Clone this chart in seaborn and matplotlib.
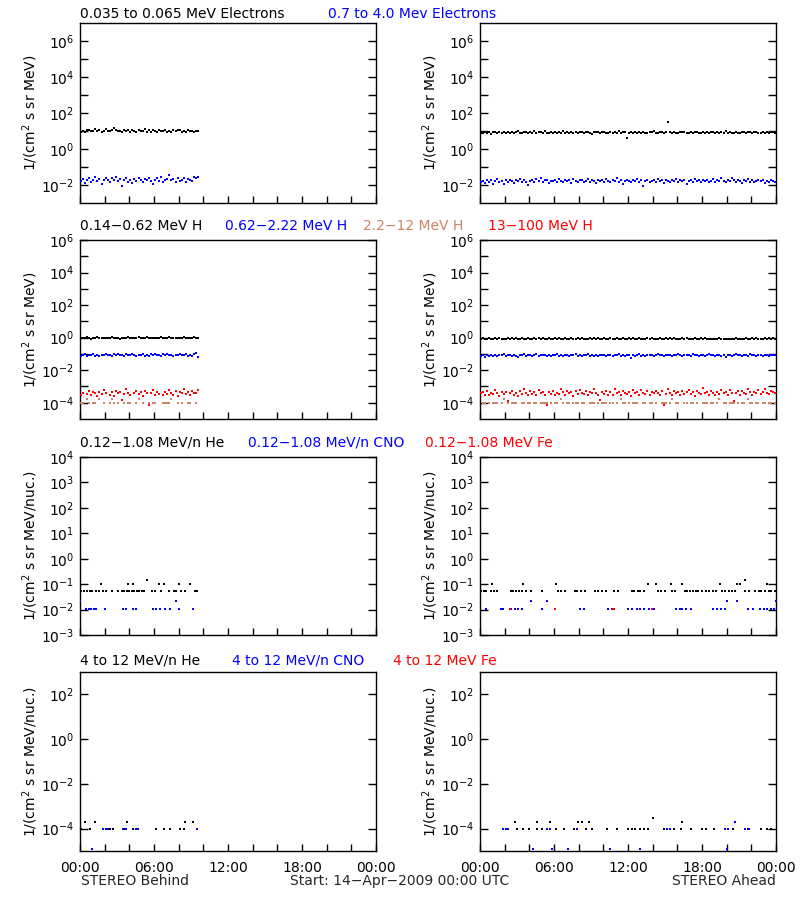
import numpy as np
import pandas as pd
import matplotlib
matplotlib.use("Agg")
import matplotlib.pyplot as plt
import seaborn as sns
from matplotlib.ticker import FixedLocator, MultipleLocator, NullLocator, FuncFormatter

N = np.nan

# ---------------- data (fluxes) ----------------
# 10-minute samples; STEREO Behind stops ~09:40, Ahead covers the full day
beh_e_low = [9.1, 10.2, 8.9, 10.8, 11.5, 9.6, 10.4, 12.3, 9.8, 11.0, 8.7, 10.6, 13.2, 10.1, 9.4, 11.7,
             14.1, 10.9, 9.9, 10.3, 8.8, 11.2, 9.5, 10.7, 9.0, 12.0, 10.5, 9.3, 11.4, 10.0, 9.7, 12.6,
             8.6, 10.8, 9.2, 11.3, 10.1, 8.9, 11.8, 9.6, 10.4, 12.1, 9.1, 10.6, 8.5, 11.0, 9.8, 10.9,
             11.9, 9.3, 10.2, 8.8, 11.1, 9.7, 10.0, 8.9, 10.5, 9.6]
beh_e_high = [0.016, 0.021, 0.013, 0.018, 0.024, 0.015, 0.019, 0.027, 0.017, 0.022, 0.012, 0.020,
              0.025, 0.018, 0.014, 0.023, 0.019, 0.028, 0.016, 0.021, 0.009, 0.018, 0.024, 0.015,
              0.020, 0.013, 0.022, 0.017, 0.026, 0.019, 0.014, 0.021, 0.018, 0.025, 0.016, 0.012,
              0.020, 0.023, 0.017, 0.028, 0.015, 0.019, 0.022, 0.034, 0.018, 0.021, 0.014, 0.024,
              0.017, 0.020, 0.026, 0.015, 0.022, 0.019, 0.016, 0.029, 0.024, 0.027]
ahd_e_low = [8.1, 7.6, 8.8, 7.9, 8.4, 7.2, 9.0, 8.3, 7.7, 8.6, 7.4, 8.9,
             8.2, 9.3, 7.8, 8.5, 7.5, 8.7, 9.6, 8.0, 7.3, 8.4, 9.1, 7.9,
             8.6, 8.1, 9.4, 7.6, 8.3, 8.9, 7.8, 9.7, 8.2, 7.4, 8.8, 8.0,
             9.2, 7.7, 8.5, 8.1, 9.8, 7.9, 8.4, 7.5, 8.7, 8.2, 9.0, 7.6,
             8.3, 8.9, 7.8, 8.6, 9.3, 8.0, 7.2, 8.5, 9.1, 8.8, 7.9, 8.4,
             8.7, 7.6, 8.2, 9.0, 7.8, 8.5, 8.1, 9.4, 7.7, 8.3, 8.6, 4.2,
             8.0, 8.9, 7.5, 8.4, 8.1, 9.2, 7.9, 8.6, 8.2, 7.6, 8.8, 8.3,
             9.5, 8.0, 7.7, 8.5, 8.9, 7.8, 8.3, 31.0, 9.1, 7.4, 8.6, 8.2,
             7.9, 8.7, 8.4, 9.0, 7.6, 8.2, 8.8, 7.5, 8.5, 9.3, 8.1, 7.8,
             8.6, 8.0, 9.2, 7.7, 8.4, 8.9, 7.9, 8.3, 7.3, 8.7, 8.1, 9.6,
             7.8, 8.5, 8.2, 7.4, 8.8, 8.0, 7.6, 8.4, 9.0, 7.7, 8.3, 8.6,
             7.9, 8.5, 9.1, 8.1, 7.6, 8.7, 8.2, 8.9, 7.8, 8.4, 8.8, 8.0]
ahd_e_high = [0.014, 0.017, 0.013, 0.019, 0.015, 0.018, 0.011, 0.016, 0.021, 0.014, 0.017, 0.012,
              0.018, 0.015, 0.020, 0.016, 0.013, 0.019, 0.017, 0.022, 0.014, 0.018, 0.015, 0.010,
              0.016, 0.019, 0.014, 0.021, 0.017, 0.023, 0.015, 0.018, 0.020, 0.013, 0.017, 0.016,
              0.019, 0.015, 0.022, 0.017, 0.014, 0.020, 0.016, 0.018, 0.013, 0.021, 0.017, 0.015,
              0.018, 0.020, 0.014, 0.016, 0.022, 0.015, 0.019, 0.017, 0.013, 0.020, 0.016, 0.018,
              0.015, 0.021, 0.017, 0.014, 0.019, 0.016, 0.023, 0.015, 0.018, 0.012, 0.017, 0.020,
              0.016, 0.014, 0.019, 0.017, 0.021, 0.015, 0.018, 0.009, 0.016, 0.020, 0.014, 0.017,
              0.019, 0.015, 0.022, 0.016, 0.018, 0.013, 0.020, 0.017, 0.015, 0.019, 0.016, 0.021,
              0.014, 0.018, 0.016, 0.020, 0.011, 0.017, 0.019, 0.015, 0.022, 0.016, 0.018, 0.014,
              0.020, 0.016, 0.019, 0.015, 0.017, 0.021, 0.014, 0.018, 0.016, 0.023, 0.017, 0.015,
              0.019, 0.016, 0.024, 0.018, 0.015, 0.020, 0.017, 0.013, 0.019, 0.016, 0.021, 0.015,
              0.018, 0.014, 0.017, 0.020, 0.016, 0.019, 0.013, 0.017, 0.015, 0.018, 0.016, 0.014]

beh_h1 = [0.92, 0.98, 0.90, 1.02, 0.95, 0.88, 1.00, 0.94, 1.05, 0.91, 0.97, 0.93, 1.01, 0.89, 0.96,
          1.03, 0.92, 0.99, 0.94, 0.87, 1.00, 0.95, 0.91, 1.04, 0.96, 0.90, 0.98, 0.93, 1.02, 0.97,
          0.89, 0.95, 1.06, 0.92, 0.99, 0.94, 1.01, 0.91, 0.96, 1.08, 0.93, 0.98, 0.90, 1.03, 0.95,
          0.92, 1.00, 0.94, 0.97, 0.89, 1.05, 0.96, 0.91, 0.99, 0.93, 1.02, 0.95, 0.94]
beh_h2 = [0.078, 0.085, 0.092, 0.074, 0.088, 0.081, 0.095, 0.079, 0.086, 0.070, 0.091, 0.083,
          0.099, 0.080, 0.087, 0.076, 0.093, 0.084, 0.105, 0.082, 0.089, 0.073, 0.094, 0.086,
          0.080, 0.097, 0.085, 0.077, 0.090, 0.083, 0.101, 0.079, 0.088, 0.075, 0.092, 0.084,
          0.096, 0.081, 0.087, 0.078, 0.094, 0.085, 0.100, 0.082, 0.089, 0.076, 0.091, 0.083,
          0.098, 0.080, 0.086, 0.093, 0.079, 0.088, 0.074, 0.097, 0.110, 0.068]
beh_h4 = [3.2e-4, 4.1e-4, N, 3.6e-4, 5.0e-4, 2.8e-4, 4.4e-4, 3.9e-4, 2.5e-4, 4.8e-4, 3.4e-4, 6.1e-4,
          4.0e-4, N, 3.1e-4, 4.6e-4, 2.7e-4, 5.4e-4, 3.8e-4, 4.3e-4, 1.4e-4, 3.5e-4, 6.6e-4, 4.2e-4,
          2.9e-4, N, 3.7e-4, 5.2e-4, 3.3e-4, 4.5e-4, 2.6e-4, 4.9e-4, 3.9e-4, 7.0e-5, 4.1e-4, 5.7e-4,
          3.0e-4, 4.4e-4, 3.6e-4, N, 2.8e-4, 4.7e-4, 3.4e-4, 6.3e-4, 4.0e-4, 3.2e-4, 5.1e-4, 2.7e-4,
          4.3e-4, 3.8e-4, 7.2e-4, 3.5e-4, 4.6e-4, 2.9e-4, 5.5e-4, 3.7e-4, 4.2e-4, 6.4e-4]
beh_h3 = [9e-5, 9e-5, N, 1.8e-4, 9e-5, N, 9e-5, 9e-5, N, 1.8e-4, N, 9e-5, N, N, 9e-5, 1.8e-4,
          9e-5, N, 9e-5, N, N, 9e-5, N, 9e-5, 9e-5, N, N, 9e-5, 1.8e-4, N, 9e-5, N, N, 9e-5, N,
          9e-5, 9e-5, N, N, N, 9e-5, 9e-5, 9e-5, 9e-5, 1.8e-4, N, N, 9e-5, N, 9e-5, N, N, 9e-5,
          9e-5, N, N, 9e-5, N]

ahd_h1 = [0.86, 0.90, 0.83, 0.88, 0.92, 0.85, 0.80, 0.89, 0.87, 0.93, 0.84, 0.88,
          0.82, 0.91, 0.86, 0.89, 0.84, 0.95, 0.87, 0.81, 0.90, 0.85, 0.88, 0.92,
          0.84, 0.87, 0.91, 0.83, 0.89, 0.86, 0.94, 0.82, 0.88, 0.90, 0.85, 0.87,
          0.93, 0.84, 0.89, 0.86, 0.81, 0.91, 0.87, 0.85, 0.96, 0.88, 0.83, 0.90,
          0.86, 0.92, 0.84, 0.88, 0.85, 0.90, 0.82, 0.89, 0.87, 0.94, 0.85, 0.88,
          0.91, 0.83, 0.87, 0.90, 0.86, 0.84, 0.92, 0.88, 0.85, 0.89, 0.80, 0.87,
          0.90, 0.86, 0.93, 0.84, 0.88, 0.91, 0.85, 0.87, 0.82, 0.89, 0.86, 0.92,
          0.84, 0.88, 0.86, 0.90, 0.83, 0.87, 0.95, 0.85, 0.89, 0.86, 0.91, 0.84,
          0.87, 0.82, 0.89, 0.85, 0.92, 0.86, 0.88, 0.84, 0.90, 0.83, 0.87, 0.91,
          0.85, 0.89, 0.86, 0.83, 0.88, 0.81, 0.87, 0.84, 0.90, 0.86, 0.82, 0.88,
          0.85, 0.80, 0.87, 0.84, 0.89, 0.86, 0.83, 0.88, 0.85, 0.91, 0.84, 0.87,
          0.89, 0.85, 0.92, 0.86, 0.88, 0.84, 0.90, 0.87, 0.93, 0.86, 0.91, 0.88]
ahd_h2 = [0.074, 0.082, 0.069, 0.086, 0.079, 0.091, 0.077, 0.084, 0.072, 0.088, 0.081, 0.095,
          0.076, 0.083, 0.090, 0.071, 0.085, 0.079, 0.062, 0.087, 0.080, 0.093, 0.075, 0.084,
          0.089, 0.078, 0.082, 0.096, 0.073, 0.086, 0.080, 0.091, 0.077, 0.084, 0.070, 0.088,
          0.081, 0.094, 0.076, 0.085, 0.079, 0.090, 0.083, 0.074, 0.087, 0.080, 0.092, 0.078,
          0.085, 0.072, 0.089, 0.081, 0.097, 0.076, 0.084, 0.079, 0.091, 0.073, 0.086, 0.082,
          0.088, 0.075, 0.083, 0.090, 0.078, 0.085, 0.080, 0.093, 0.077, 0.086, 0.071, 0.084,
          0.081, 0.058, 0.088, 0.076, 0.083, 0.092, 0.079, 0.085, 0.074, 0.087, 0.080, 0.090,
          0.077, 0.084, 0.095, 0.082, 0.088, 0.079, 0.091, 0.083, 0.086, 0.075, 0.089, 0.081,
          0.093, 0.085, 0.078, 0.090, 0.083, 0.087, 0.076, 0.092, 0.080, 0.086, 0.073, 0.084,
          0.089, 0.077, 0.085, 0.094, 0.081, 0.088, 0.075, 0.083, 0.091, 0.079, 0.086, 0.066,
          0.082, 0.090, 0.077, 0.085, 0.096, 0.080, 0.087, 0.074, 0.089, 0.083, 0.078, 0.092,
          0.081, 0.086, 0.075, 0.088, 0.083, 0.079, 0.090, 0.084, 0.072, 0.087, 0.082, 0.085]
ahd_h4 = [3.8e-4, 4.6e-4, 3.2e-4, 5.3e-4, 2.9e-4, 4.1e-4, 3.5e-4, 6.0e-4, 3.9e-4, 2.7e-4, 4.8e-4, 3.3e-4,
          4.4e-4, 1.2e-4, 3.7e-4, 5.6e-4, 3.0e-4, 4.2e-4, 2.6e-4, 4.9e-4, 3.6e-4, 7.4e-4, 4.0e-4, 3.1e-4,
          5.1e-4, 3.4e-4, 4.5e-4, 2.8e-4, 6.4e-4, 3.9e-4, 4.7e-4, 3.2e-4, 7.0e-5, 4.3e-4, 3.6e-4, 5.5e-4,
          2.9e-4, 4.1e-4, 3.5e-4, 6.8e-4, 4.6e-4, 3.0e-4, 5.2e-4, 3.8e-4, 4.4e-4, 2.7e-4, 4.9e-4, 3.3e-4,
          6.1e-4, 4.0e-4, 3.4e-4, 5.0e-4, 2.8e-4, 4.5e-4, 3.7e-4, 7.0e-4, 4.2e-4, 3.1e-4, 1.5e-4, 4.8e-4,
          3.6e-4, 5.4e-4, 3.2e-4, 4.3e-4, 2.9e-4, 6.5e-4, 3.9e-4, 4.6e-4, 3.0e-4, 5.2e-4, 4.1e-4, 3.5e-4,
          4.7e-4, 2.6e-4, 5.8e-4, 3.8e-4, 4.4e-4, 3.1e-4, 6.2e-4, 4.0e-4, 3.3e-4, 5.0e-4, 2.8e-4, 4.5e-4,
          3.7e-4, 5.6e-4, 4.2e-4, 3.0e-4, 4.9e-4, 7.5e-5, 3.6e-4, 6.7e-4, 4.1e-4, 3.2e-4, 5.3e-4, 3.9e-4,
          4.6e-4, 2.9e-4, 5.1e-4, 3.5e-4, 4.3e-4, 6.0e-4, 3.3e-4, 4.7e-4, 2.7e-4, 5.5e-4, 4.0e-4, 3.4e-4,
          7.5e-4, 3.8e-4, 4.5e-4, 3.1e-4, 5.2e-4, 4.1e-4, 2.8e-4, 4.8e-4, 3.6e-4, 6.3e-4, 3.9e-4, 4.4e-4,
          3.2e-4, 5.7e-4, 4.2e-4, 1.3e-4, 3.7e-4, 4.9e-4, 3.0e-4, 5.4e-4, 4.0e-4, 3.5e-4, 6.6e-4, 4.3e-4,
          2.9e-4, 4.6e-4, 3.8e-4, 5.9e-4, 3.3e-4, 4.4e-4, 6.9e-4, 4.1e-4, 3.6e-4, 5.0e-4, 4.7e-4, 3.9e-4]
ahd_h3 = [N, 9e-5, 9e-5, N, 9e-5, N, 9e-5, 9e-5, 9e-5, N, 9e-5, 1.8e-4,
          N, 9e-5, N, 9e-5, 9e-5, 9e-5, N, N, 9e-5, 9e-5, N, 9e-5,
          9e-5, N, 9e-5, 9e-5, N, 9e-5, 9e-5, 9e-5, 9e-5, N, 9e-5, N,
          9e-5, 9e-5, N, 1.8e-4, 9e-5, N, 9e-5, 9e-5, N, 9e-5, 9e-5, 9e-5,
          N, 9e-5, 9e-5, N, N, 9e-5, 9e-5, 9e-5, N, 9e-5, N, 9e-5,
          9e-5, 9e-5, N, 9e-5, 9e-5, N, 9e-5, N, 1.8e-4, 9e-5, 9e-5, N,
          9e-5, N, 9e-5, 9e-5, 9e-5, N, N, 9e-5, 9e-5, N, 9e-5, 9e-5,
          N, 9e-5, N, N, 9e-5, 9e-5, 9e-5, N, 9e-5, 1.8e-4, N, 9e-5,
          9e-5, N, N, 9e-5, 9e-5, N, 9e-5, 9e-5, N, 9e-5, N, N,
          9e-5, 9e-5, 9e-5, N, 9e-5, 9e-5, N, 9e-5, 1.8e-4, N, 9e-5, 9e-5,
          N, 9e-5, 9e-5, 9e-5, N, 9e-5, N, 9e-5, 9e-5, N, 1.8e-4, 9e-5,
          9e-5, N, 9e-5, 9e-5, N, 9e-5, 9e-5, N, 9e-5, 9e-5, N, 9e-5]

# sparse (count-limited) channels: hours of non-zero samples, and their flux levels
he_base, he_one, he_two = 0.055, 0.10, 0.15
cno_base, cno_one = 0.011, 0.022
beh_he_base_t = [0.1, 0.3, 0.6, 0.8, 1.0, 1.3, 1.5, 1.9, 2.1, 2.6, 3.1, 3.4, 3.6, 3.8, 4.0, 4.2,
                 4.4, 4.6, 4.8, 5.0, 5.2, 5.8, 6.1, 6.6, 7.2, 7.6, 7.8, 8.2, 8.5, 9.3, 9.5]
beh_he_one_t = [1.7, 3.9, 4.3, 6.4, 6.8, 8.0, 8.9]
beh_he_two_t = [5.4]
beh_cno_base_t = [0.5, 0.7, 0.9, 1.1, 1.3, 2.0, 3.5, 3.7, 4.3, 4.5, 5.9, 6.2, 6.5, 6.9, 7.3, 8.0, 9.2]
beh_cno_one_t = [0.0, 7.8]
ahd_he_base_t = [0.1, 0.3, 0.5, 0.9, 1.1, 1.4, 2.5, 2.7, 2.9, 3.2, 3.4, 3.7, 4.1, 5.0, 6.3, 6.6, 6.9,
                 7.7, 7.9, 8.2, 8.5, 9.3, 9.6, 9.9, 10.2, 10.9, 11.2, 12.3, 12.5, 12.8, 13.0, 13.3,
                 14.4, 14.7, 15.0, 15.6, 15.8, 16.6, 16.8, 17.0, 17.3, 17.5, 17.7, 18.0, 18.3, 18.6,
                 18.9, 19.1, 19.6, 19.9, 20.2, 20.4, 20.7, 21.5, 21.8, 22.3, 22.6, 22.8, 23.1, 23.4,
                 23.6, 23.9]
ahd_he_one_t = [0.95, 3.5, 6.2, 13.65, 14.3, 15.5, 16.35, 19.46, 20.8, 21.1, 23.25]
ahd_he_two_t = [21.5]
ahd_cno_base_t = [0.5, 1.7, 1.9, 2.5, 2.8, 3.1, 3.4, 5.0, 8.1, 8.4, 10.4, 10.7, 12.0, 12.3, 12.7,
                  13.0, 13.3, 13.7, 14.1, 15.9, 16.2, 16.4, 16.7, 17.1, 18.9, 19.2, 19.5, 19.9,
                  21.7, 22.1, 22.7, 23.0, 23.3, 23.6, 23.8]
ahd_cno_one_t = [4.1, 5.4, 20.0, 20.8, 24.0]
ahd_fe_base_t = [2.45, 6.1, 10.8, 10.9, 13.95]

hi_one, hi_two, hi_three, hi_low = 1.0e-4, 2.0e-4, 3.0e-4, 1.2e-5
beh_hhe_one_t = [0.1, 0.8, 2.4, 2.7, 3.6, 4.3, 4.6, 6.2, 6.8, 7.3, 8.1, 8.4, 9.5]
beh_hhe_two_t = [0.4, 1.2, 3.8, 8.5, 9.2]
beh_hcno_one_t = [1.9, 2.1, 2.3, 3.5, 3.7, 4.5, 4.7, 9.5]
beh_hcno_low_t = [1.0]
ahd_hhe_one_t = [3.0, 3.5, 4.0, 4.6, 5.0, 6.2, 6.8, 7.6, 8.6, 9.1, 10.3, 11.1, 12.0, 12.3, 12.6, 13.0,
                 13.3, 13.6, 14.9, 15.7, 16.3, 17.1, 18.0, 18.3, 19.0, 20.5, 21.7, 22.8, 23.3, 23.6]
ahd_hhe_two_t = [2.84, 4.6, 5.68, 7.97, 8.24, 8.8, 16.35]
ahd_hhe_three_t = [14.05]
ahd_hcno_one_t = [1.9, 2.1, 2.3, 5.4, 5.7, 7.9, 15.2, 15.4, 19.9, 20.1, 21.5, 21.8]
ahd_hcno_two_t = [20.7]
ahd_hcno_low_t = [4.3, 5.8, 7.1, 10.5, 13.0, 20.0]

hour_ticks = [0, 6, 12, 18, 24]
hour_labels = ["00:00", "06:00", "12:00", "18:00", "00:00"]

BLUE, RED, TAN, BLACK = "#0000ff", "#ff0000", "#cc8466", "#000000"

# ---------------- figure ----------------
sns.set_theme(style="white")
plt.rcParams["font.family"] = ["DejaVu Sans"]
plt.rcParams["mathtext.default"] = "regular"
FS = 10

fig = plt.figure(figsize=(8, 9), dpi=100)
W, H = 800.0, 900.0
row_px = [(23, 203), (240, 419), (457, 635), (672, 851)]
col_px = [(80, 376), (480, 776)]
row_ylim = [(1e-3, 1e7), (1e-5, 1e6), (10 ** -3.0, 1e4), (1e-5, 1e3)]
row_ticks = [range(-2, 7), range(-4, 7), range(-3, 5), range(-4, 3, 2)]
row_lab_even = [True, True, False, True]
ylabels = ["1/(cm$^2$ s sr MeV)", "1/(cm$^2$ s sr MeV)",
           "1/(cm$^2$ s sr MeV/nuc.)", "1/(cm$^2$ s sr MeV/nuc.)"]


def pts(ax, x, y, color, s=3.4):
    df = pd.DataFrame({"t": np.asarray(x, float), "v": np.asarray(y, float)}).dropna()
    sns.scatterplot(data=df, x="t", y="v", ax=ax, color=color, marker="s", s=s,
                    linewidth=0, legend=False, zorder=3)


def grid10(vals):
    return np.arange(len(vals)) / 6.0 + 0.08


axes = {}
for r, (top, bot) in enumerate(row_px):
    for c, (l, rr) in enumerate(col_px):
        ax = fig.add_axes([l / W, 1 - bot / H, (rr - l) / W, (bot - top) / H])
        ax.set_facecolor("white")
        axes[(r, c)] = ax

# row 1: electrons
for c, (lo, hi) in enumerate([(beh_e_low, beh_e_high), (ahd_e_low, ahd_e_high)]):
    ax = axes[(0, c)]
    pts(ax, grid10(lo), lo, BLACK)
    pts(ax, grid10(hi), hi, BLUE)

# row 2: protons
for c, (a, b, d, e) in enumerate([(beh_h1, beh_h2, beh_h3, beh_h4), (ahd_h1, ahd_h2, ahd_h3, ahd_h4)]):
    ax = axes[(1, c)]
    pts(ax, grid10(a), a, BLACK)
    pts(ax, grid10(b), b, BLUE)
    pts(ax, grid10(d), d, TAN)
    pts(ax, grid10(e), e, RED)

# row 3: low-energy heavy ions
ax = axes[(2, 0)]
pts(ax, beh_he_base_t, [he_base] * len(beh_he_base_t), BLACK)
pts(ax, beh_he_one_t, [he_one] * len(beh_he_one_t), BLACK)
pts(ax, beh_he_two_t, [he_two] * len(beh_he_two_t), BLACK)
pts(ax, beh_cno_base_t, [cno_base] * len(beh_cno_base_t), BLUE)
pts(ax, beh_cno_one_t, [cno_one] * len(beh_cno_one_t), BLUE)
ax = axes[(2, 1)]
pts(ax, ahd_he_base_t, [he_base] * len(ahd_he_base_t), BLACK)
pts(ax, ahd_he_one_t, [he_one] * len(ahd_he_one_t), BLACK)
pts(ax, ahd_he_two_t, [he_two] * len(ahd_he_two_t), BLACK)
pts(ax, ahd_cno_base_t, [cno_base] * len(ahd_cno_base_t), BLUE)
pts(ax, ahd_cno_one_t, [cno_one] * len(ahd_cno_one_t), BLUE)
pts(ax, ahd_fe_base_t, [cno_base] * len(ahd_fe_base_t), RED)

# row 4: high-energy heavy ions
ax = axes[(3, 0)]
pts(ax, beh_hhe_one_t, [hi_one] * len(beh_hhe_one_t), BLACK)
pts(ax, beh_hhe_two_t, [hi_two] * len(beh_hhe_two_t), BLACK)
pts(ax, beh_hcno_one_t, [hi_one] * len(beh_hcno_one_t), BLUE)
pts(ax, beh_hcno_low_t, [hi_low] * len(beh_hcno_low_t), BLUE)
ax = axes[(3, 1)]
pts(ax, ahd_hhe_one_t, [hi_one] * len(ahd_hhe_one_t), BLACK)
pts(ax, ahd_hhe_two_t, [hi_two] * len(ahd_hhe_two_t), BLACK)
pts(ax, ahd_hhe_three_t, [hi_three] * len(ahd_hhe_three_t), BLACK)
pts(ax, ahd_hcno_one_t, [hi_one] * len(ahd_hcno_one_t), BLUE)
pts(ax, ahd_hcno_two_t, [hi_two] * len(ahd_hcno_two_t), BLUE)
pts(ax, ahd_hcno_low_t, [hi_low] * len(ahd_hcno_low_t), BLUE)


def dec_fmt(even_only):
    def f(v, p):
        k = int(round(np.log10(v)))
        if even_only and k % 2:
            return ""
        return "$10^{%d}$" % k
    return FuncFormatter(f)


for (r, c), ax in axes.items():
    ax.set_yscale("log")
    ax.set_ylim(*row_ylim[r])
    ax.set_xlim(0, 24)
    ax.yaxis.set_major_locator(FixedLocator([10.0 ** k for k in row_ticks[r]]))
    ax.yaxis.set_major_formatter(dec_fmt(row_lab_even[r]))
    ax.yaxis.set_minor_locator(NullLocator())
    ax.xaxis.set_major_locator(FixedLocator(hour_ticks))
    ax.xaxis.set_minor_locator(MultipleLocator(2))
    if r == 3:
        ax.set_xticklabels(hour_labels)
    else:
        ax.set_xticklabels([])
    ax.tick_params(axis="y", which="both", direction="in", length=6, width=1, left=True,
                   right=True, labelsize=FS, colors=BLACK, pad=4)
    ax.tick_params(axis="x", which="both", direction="in", length=5, width=1, bottom=True,
                   top=False, labelsize=FS, colors=BLACK, pad=7)
    for sp in ax.spines.values():
        sp.set_color(BLACK)
        sp.set_linewidth(1.0)
        sp.set_visible(True)
    ax.set_xlabel("")
    ax.set_ylabel(ylabels[r], fontsize=FS, color=BLACK, va="center")
    ax.yaxis.set_label_coords(-0.168, 0.5)
    ax.grid(False)

# channel titles
titles = [
    [(80, 18, "0.035 to 0.065 MeV Electrons", BLACK), (328, 18, "0.7 to 4.0 Mev Electrons", BLUE)],
    [(80, 230, "0.14-0.62 MeV H", BLACK), (225, 230, "0.62-2.22 MeV H", BLUE),
     (363, 230, "2.2-12 MeV H", TAN), (488, 230, "13-100 MeV H", RED)],
    [(80, 447, "0.12-1.08 MeV/n He", BLACK), (248, 447, "0.12-1.08 MeV/n CNO", BLUE),
     (425, 447, "0.12-1.08 MeV Fe", RED)],
    [(80, 665, "4 to 12 MeV/n He", BLACK), (232, 665, "4 to 12 MeV/n CNO", BLUE),
     (393, 665, "4 to 12 MeV Fe", RED)],
]
for row in titles:
    for x, y, s, col in row:
        fig.text(x / W, 1 - y / H, s.replace("-", "\u2212"), color=col, fontsize=FS,
                 ha="left", va="baseline")

fig.text(81 / W, 1 - 885 / H, "STEREO Behind", fontsize=FS, ha="left", va="baseline")
fig.text(400 / W, 1 - 885 / H, "Start: 14\u2212Apr\u22122009 00:00 UTC", fontsize=FS,
         ha="center", va="baseline")
fig.text(776 / W, 1 - 885 / H, "STEREO Ahead", fontsize=FS, ha="right", va="baseline")

fig.savefig("out.png", dpi=100, facecolor="white")
